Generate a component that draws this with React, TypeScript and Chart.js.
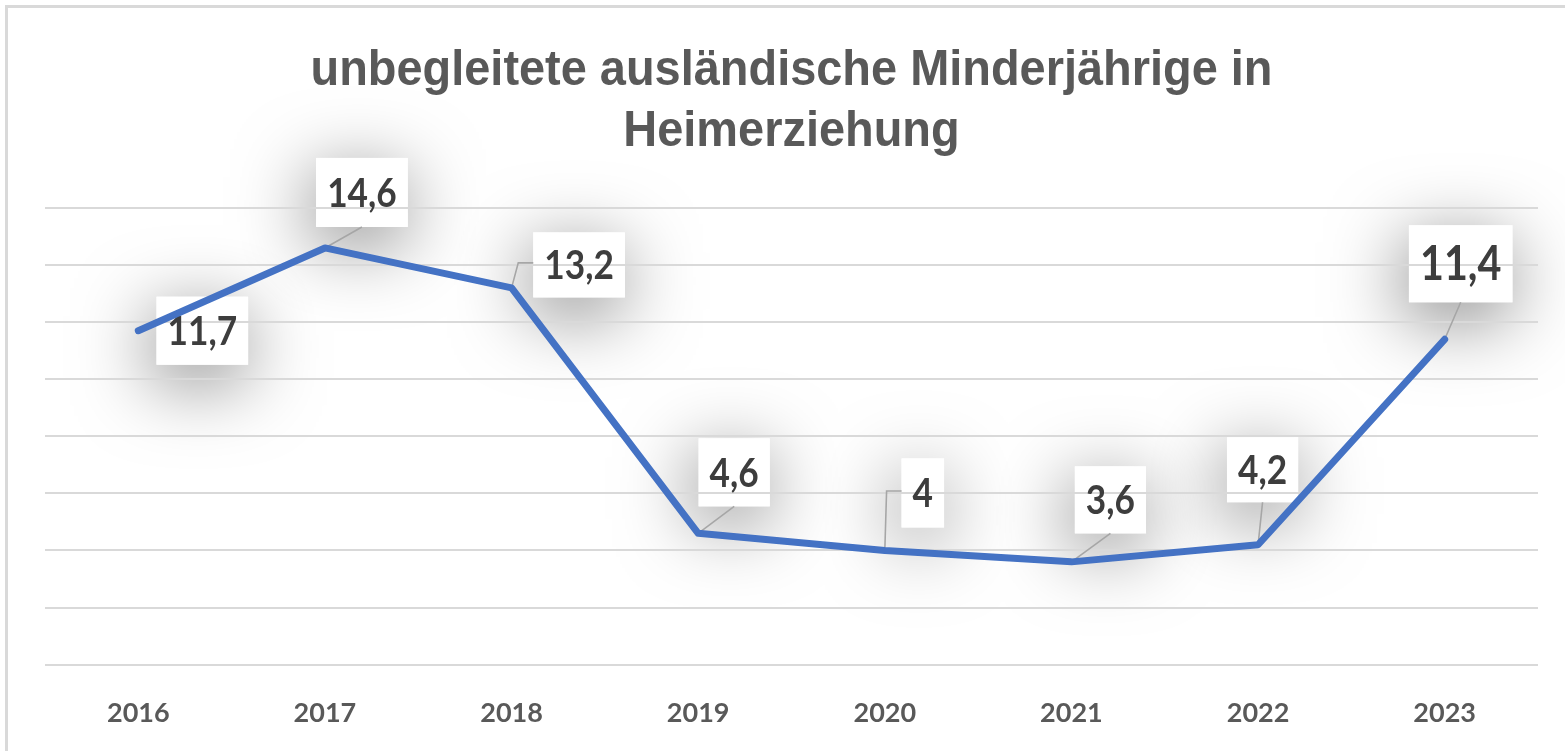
import React, { useEffect, useRef } from 'react';
import { Chart, registerables } from 'chart.js';

Chart.register(...registerables);

// ---- data ----
const categories = ['2016', '2017', '2018', '2019', '2020', '2021', '2022', '2023'];
const values = [11.7, 14.6, 13.2, 4.6, 4, 3.6, 4.2, 11.4];
const titleLines = ['unbegleitete ausländische Minderjährige in', 'Heimerziehung'];
const yMin = 0;
const yMax = 16;
const yStep = 2;

const formatValue = (v: number) => String(v).replace('.', ',');

// ---- label styling (offsets of label centre from point, leader style) ----
const labelDx = [64, 37, 67.5, 36, 38, 39, 4.5, 16];
const labelDy = [0, -55.5, -23, -61, -57.5, -62, -75, -75.5];
const labelFontSize = [41, 41, 41, 41, 41, 41, 41, 48];
const labelBoxH = [68, 69, 65, 68, 69, 67, 65, 77];
const leaderKind = ['none', 'bottom', 'left', 'bottom', 'left', 'bottom', 'bottom', 'bottom'];

const LABEL_FONT = "Lato, 'Open Sans', sans-serif";
const LABEL_SX = 0.86;
const PAD_X = 11;

// ---- title styling ----
const TITLE_FONT = "bold 50px 'Liberation Sans', Arial, sans-serif";
const TITLE_BASELINES = [85, 146];
const TITLE_WIDTH = 962;

type Box = { x: number; y: number; w: number; h: number; cx: number; cy: number; px: number; py: number; i: number };

function computeBoxes(chart: any): Box[] {
  const ctx = chart.ctx as CanvasRenderingContext2D;
  const meta = chart.getDatasetMeta(0);
  const out: Box[] = [];
  meta.data.forEach((pt: any, i: number) => {
    const text = formatValue(values[i]);
    ctx.save();
    ctx.font = `bold ${labelFontSize[i]}px ${LABEL_FONT}`;
    const tw = ctx.measureText(text).width * LABEL_SX;
    ctx.restore();
    const w = tw + PAD_X * 2;
    const h = labelBoxH[i];
    const cx = pt.x + labelDx[i];
    const cy = pt.y + labelDy[i];
    out.push({ x: cx - w / 2, y: cy - h / 2, w, h, cx, cy, px: pt.x, py: pt.y, i });
  });
  return out;
}

const titlePlugin = {
  id: 'condensedTitle',
  afterDraw(chart: any) {
    const ctx = chart.ctx as CanvasRenderingContext2D;
    const area = chart.chartArea;
    const cx = (area.left + area.right) / 2;
    ctx.save();
    ctx.font = TITLE_FONT;
    const sx = TITLE_WIDTH / ctx.measureText(titleLines[0]).width;
    ctx.fillStyle = '#595959';
    ctx.textAlign = 'center';
    ctx.textBaseline = 'alphabetic';
    titleLines.forEach((line, i) => {
      ctx.save();
      ctx.translate(cx, TITLE_BASELINES[i]);
      ctx.scale(sx, 1);
      ctx.fillText(line, 0, 0);
      ctx.restore();
    });
    ctx.restore();
  },
};

const calloutPlugin = {
  id: 'calloutLabels',
  beforeDraw(chart: any) {
    const ctx = chart.ctx as CanvasRenderingContext2D;
    const boxes = computeBoxes(chart);
    ctx.save();
    boxes.forEach((b) => {
      ctx.shadowColor = 'rgba(0,0,0,0.5)';
      ctx.shadowBlur = 75;
      ctx.shadowOffsetX = -4;
      ctx.shadowOffsetY = 16;
      ctx.fillStyle = '#ffffff';
      ctx.fillRect(b.x, b.y, b.w, b.h);
    });
    ctx.shadowColor = 'transparent';
    ctx.shadowBlur = 0;
    ctx.shadowOffsetX = 0;
    ctx.shadowOffsetY = 0;
    boxes.forEach((b) => {
      ctx.fillStyle = '#ffffff';
      ctx.fillRect(b.x, b.y, b.w, b.h);
    });
    ctx.restore();
  },
  beforeDatasetsDraw(chart: any) {
    const ctx = chart.ctx as CanvasRenderingContext2D;
    const boxes = computeBoxes(chart);
    ctx.save();
    ctx.strokeStyle = '#a6a6a6';
    ctx.lineWidth = 1.6;
    boxes.forEach((b) => {
      const kind = leaderKind[b.i];
      if (kind === 'none') return;
      ctx.beginPath();
      if (kind === 'bottom') {
        ctx.moveTo(b.cx, b.y + b.h);
        ctx.lineTo(b.px, b.py);
      } else {
        const ly = b.cy - 2;
        ctx.moveTo(b.x, ly);
        ctx.lineTo(b.x - 15, ly);
        ctx.lineTo(b.px, b.py);
      }
      ctx.stroke();
    });
    boxes.forEach((b) => {
      const text = formatValue(values[b.i]);
      ctx.save();
      ctx.translate(b.cx, b.cy);
      ctx.scale(LABEL_SX, 1);
      ctx.font = `bold ${labelFontSize[b.i]}px ${LABEL_FONT}`;
      ctx.fillStyle = '#3d3d3d';
      ctx.textAlign = 'center';
      ctx.textBaseline = 'middle';
      ctx.fillText(text, 0, 1);
      ctx.restore();
    });
    ctx.restore();
  },
};

export default function App() {
  const canvasRef = useRef<HTMLCanvasElement | null>(null);

  useEffect(() => {
    if (!canvasRef.current) return;
    const chart = new Chart(canvasRef.current, {
      type: 'line',
      data: {
        labels: categories,
        datasets: [
          {
            data: values,
            borderColor: '#4472C4',
            backgroundColor: '#4472C4',
            borderWidth: 7,
            pointRadius: 0,
            tension: 0,
            borderCapStyle: 'round',
            borderJoinStyle: 'round',
            fill: false,
          },
        ],
      },
      options: {
        responsive: false,
        animation: false,
        devicePixelRatio: 1,
        layout: { padding: { left: 45, right: 27, top: 208, bottom: 0 } },
        plugins: {
          legend: { display: false },
          tooltip: { enabled: false },
          title: { display: false },
        },
        scales: {
          x: {
            type: 'category',
            offset: true,
            grid: { display: false, drawTicks: false },
            border: { display: false },
            ticks: {
              color: '#595959',
              font: { family: LABEL_FONT, size: 27, weight: 'bold' },
              padding: 32,
              maxRotation: 0,
              autoSkip: false,
            },
          },
          y: {
            min: yMin,
            max: yMax,
            grid: { color: '#d9d9d9', lineWidth: 2, drawTicks: false },
            border: { display: false },
            ticks: { display: false, stepSize: yStep },
          },
        },
      },
      plugins: [calloutPlugin, titlePlugin],
    } as any);
    return () => chart.destroy();
  }, []);

  return (
    <div
      style={{
        position: 'fixed',
        left: 0,
        top: 0,
        width: 1565,
        height: 751,
        overflow: 'hidden',
        background: '#ffffff',
      }}
    >
      <div
        style={{
          position: 'absolute',
          left: 5,
          top: 5,
          width: 1700,
          height: 900,
          borderTop: '3px solid #d9d9d9',
          borderLeft: '3px solid #d9d9d9',
        }}
      />
      <canvas
        ref={canvasRef}
        width={1565}
        height={761}
        style={{ position: 'absolute', left: 0, top: 0 }}
      />
    </div>
  );
}
